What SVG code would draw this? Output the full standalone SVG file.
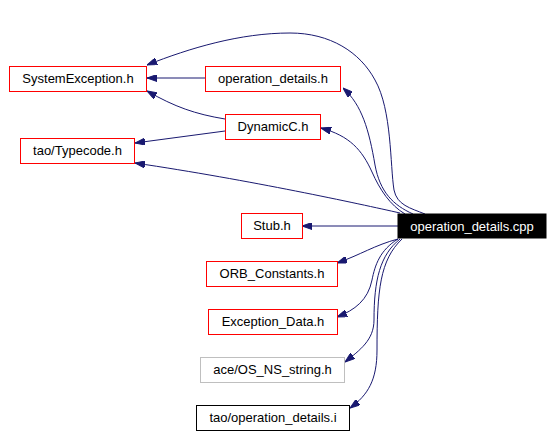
<svg xmlns="http://www.w3.org/2000/svg" width="554" height="436" viewBox="0 0 554 436">
<style>
.n rect{fill:#fff;stroke:#f00;stroke-width:1}
.n text{font-family:"Liberation Sans",Arial,sans-serif;font-size:13px;text-anchor:middle;fill:#000}
#e path{fill:none;stroke:#191970;stroke-width:1;marker-end:url(#a)}
</style>
<defs>
<marker id="a" viewBox="0 0 10 7" markerWidth="10" markerHeight="7" markerUnits="userSpaceOnUse" refX="10" refY="3.5" orient="auto">
<polygon points="0,0 10,3.5 0,7" fill="#191970" stroke="#191970"/>
</marker>
</defs>
<rect width="554" height="436" fill="#fff"/>
<g id="e">
<path d="M425,214 C410,208 397,205 394,190 C390,165 392,110 375,80 C360,52 330,33 290,33 C240,33 190,48 147,65"/>
<path d="M413,214 C393,205 380,192 375,165 C369,130 362,105 343,88"/>
<path d="M405,214 C390,205 380,190 372,172 C362,150 350,136 321,128"/>
<path d="M400,213 C360,204 250,180 135,163"/>
<path d="M225,119 C195,114 175,107 147,91"/>
<path d="M225,131 L135,143"/>
<path d="M205,78 L147,78"/>
<path d="M398,226 L302,226"/>
<path d="M398,239 C375,245 360,255 337,263"/>
<path d="M398,239 C380,250 375,265 372,280 C368,300 355,310 337,317"/>
<path d="M400,239 C380,255 374,280 374,320 C374,340 360,350 345,362"/>
<path d="M402,239 C380,260 377,290 377,350 C377,380 368,395 350,408"/>
</g>
<g id="n1" class="n"><rect x="9.5" y="66.5" width="137" height="25"/><text x="78" y="83">SystemException.h</text></g>
<g id="n2" class="n"><rect x="205.5" y="66.5" width="135" height="25"/><text x="273" y="83">operation_details.h</text></g>
<g id="n3" class="n"><rect x="225.5" y="114.5" width="95" height="25"/><text x="273" y="131">DynamicC.h</text></g>
<g id="n4" class="n"><rect x="20.5" y="138.5" width="114" height="25"/><text x="77.5" y="155">tao/Typecode.h</text></g>
<g id="n0" class="n"><rect x="398" y="214" width="148" height="24" style="fill:#000;stroke:#000"/><text x="472" y="231" style="fill:#fff">operation_details.cpp</text></g>
<g id="n5" class="n"><rect x="241.5" y="213.5" width="61" height="25"/><text x="272" y="230">Stub.h</text></g>
<g id="n6" class="n"><rect x="206.5" y="261.5" width="131" height="25"/><text x="272" y="278">ORB_Constants.h</text></g>
<g id="n7" class="n"><rect x="208.5" y="309.5" width="129" height="25"/><text x="273" y="326">Exception_Data.h</text></g>
<g id="n8" class="n"><rect x="200.5" y="357.5" width="144" height="25" style="stroke:#bfbfbf"/><text x="272.5" y="374">ace/OS_NS_string.h</text></g>
<g id="n9" class="n"><rect x="196.5" y="405.5" width="153" height="25" style="stroke:#000"/><text x="273" y="422">tao/operation_details.i</text></g>
</svg>
